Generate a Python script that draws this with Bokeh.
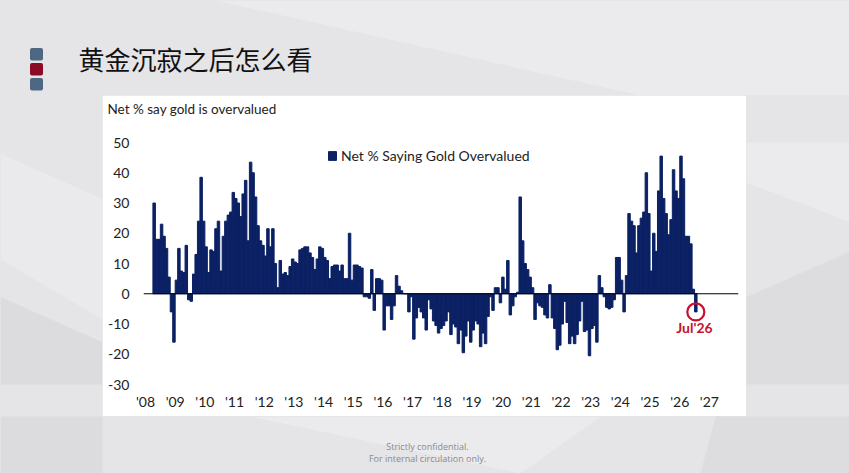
from bokeh.plotting import figure
from bokeh.layouts import column, row
from bokeh.models import (Range1d, FixedTicker, Span, Label, Legend, LegendItem, Title,
                          GlobalInlineStyleSheet)
from bokeh.core.properties import value
from bokeh.embed import file_html
from bokeh.resources import INLINE

# Net % of fund managers saying gold is overvalued, monthly, Apr 2008 .. Jul 2026
start_year, start_month = 2008, 4
y2008 = [30, 18, 18, 23, 19, 15, 5.5, -6, -16]
y2009 = [4.5, 15, 7.5, 7, 16, -2, -2.5, 6.5, 13, 24, 38.5, 24]
y2010 = [15.5, 7, 14.5, 14, 21.5, 24, 7.5, 19, 24, 26, 27, 33.5]
y2011 = [31.5, 30, 25.5, 33, 37.5, 17.5, 43.5, 40, 32, 22.5, 17.5, 16]
y2012 = [12.5, 21.5, 15.5, 21.5, 10, 2, 11, 6.5, 7, 6, 9, 11.5]
y2013 = [10.5, 10, 14.5, 15, 15.5, 15.5, 13.5, 12, 8, 11.5, 15.5, 15]
y2014 = [12, 11, 5, 9, 9.5, 9.5, 7.5, 9.5, 5, 5, 20, 4.5]
y2015 = [9.5, 9.5, 9, 8.5, -1, -1, -1.5, 8, -5.5, 5, 5, 4.5]
y2016 = [-12, -4, -4, -8.5, -4, 6, 2.5, 1, 0, 0, -6, -1]
y2017 = [-15, -8, -4.5, -6, -8, -12, -2, -5, -9, -10.5, -13, -11.5]
y2018 = [-10.5, -9, -6, -13.5, -10, -11, -16.5, -12, -19.5, -14, -9, -16]
y2019 = [-12, -9, -10, -17.5, -13, -16.5, -7.5, -1, -5.5, 2, 2, -3]
y2020 = [5.5, 1.5, 11, -7, -4, -1, 0.5, 32, 17.5, 10, 8, 5.5]
y2021 = [2, -8.5, -3, -4, -4.5, -7, -8, 3, -8, -11.5, -18.5, -17]
y2022 = [-10, -2.5, -9.5, -16.5, -14, -16.5, -13.5, -9, -2.5, -12.5, -12, -20.5]
y2023 = [-11.5, -10.5, -16, 6, 2, -1, -4.5, -5, -4.5, -2, 12, 12]
y2024 = [4.5, -6, 6, 26.5, 24, 22.5, 13.5, 22.5, 25, 27, 40, 26.5]
y2025 = [7.5, 20, 14, 34, 45.5, 31.5, 26.5, 19.5, 24.5, 41, 34, 31.5]
y2026 = [45.5, 38, 19, 19, 16.5, 1.5, -6]

years = list(range(2008, 2028))
year_labels = ["'%02d" % (y % 100) for y in years]
y_ticks = [-30, -20, -10, 0, 10, 20, 30, 40, 50]
series_name = "Net % Saying Gold Overvalued"
chart_title = "Net % say gold is overvalued"
slide_title = "黄金沉寂之后怎么看"
footer = ["Strictly confidential.", "For internal circulation only."]
last_label = "Jul'26"

values = (y2008 + y2009 + y2010 + y2011 + y2012 + y2013 + y2014 + y2015 + y2016 + y2017
          + y2018 + y2019 + y2020 + y2021 + y2022 + y2023 + y2024 + y2025 + y2026)
months = [start_year + (start_month - 1 + k + 0.5) / 12 for k in range(len(values))]

NAVY = "#0b2164"
RED = "#c8102e"
SLIDE = "#e5e5e7"
PAGE_W, PAGE_H = 849, 473
PANEL = (102, 746, 95, 416)        # page box of the white chart panel (left, right, top, bottom)
PX_YEAR = 29.68

# faint low-poly facets of the slide background, page pixels
facets = [
    ([215, 849, 849, 640], [0, 0, 200, 95], "#ebebed"),
    ([0, 102, 102, 0], [110, 170, 330, 250], "#eaeaec"),
    ([0, 102, 102, 0], [300, 360, 473, 473], "#dcdcdf"),
    ([746, 849, 849, 700], [300, 240, 473, 473], "#dddde0"),
    ([250, 600, 520], [416, 416, 473], "#ebebed"),
]


def slide_piece(x0, x1, y0, y1):
    f = figure(width=x1 - x0, height=y1 - y0, output_backend="svg", toolbar_location=None,
               tools="", x_range=Range1d(x0, x1), y_range=Range1d(y1, y0),
               x_axis_type=None, y_axis_type=None, min_border=0,
               background_fill_color=SLIDE, border_fill_color=SLIDE, outline_line_color=None)
    f.grid.visible = False
    f.patches(xs=[fc[0] for fc in facets], ys=[fc[1] for fc in facets],
              fill_color=[fc[2] for fc in facets], line_color=None)
    return f


# top band: bullets and slide title
top = slide_piece(0, PAGE_W, 0, PANEL[2])
top.quad(left=[29.5] * 3, right=[42.5] * 3, top=[47.5, 62.5, 77.5], bottom=[60, 75, 90],
         fill_color=["#4e6883", "#8c0c26", "#4e6883"], line_color=None, border_radius=2)
top.text(x=[78], y=[58], text=[slide_title], text_font=value("Noto Sans CJK SC"),
         text_font_size="26px", text_color="#111111", text_baseline="middle")

left = slide_piece(0, PANEL[0], PANEL[2], PANEL[3])
right = slide_piece(PANEL[1], PAGE_W, PANEL[2], PANEL[3])

bottom = slide_piece(0, PAGE_W, PANEL[3], PAGE_H)
bottom.text(x=[427, 427], y=[446, 457.5], text=footer, text_font=value("Open Sans"),
            text_font_size="9px", text_color="#8a8a8a", text_align="center",
            text_baseline="middle")

# chart: frame at page x 143..738, y 142..384
FL, FR, FT, FB = 143, 738, 142, 384
pw, ph = PANEL[1] - PANEL[0], PANEL[3] - PANEL[2]
p = figure(width=pw, height=ph, output_backend="svg", toolbar_location=None, tools="",
           title=None,
           x_range=Range1d(2008 - 2 / PX_YEAR, 2008 + 593 / PX_YEAR),
           y_range=Range1d(-30, 50),
           min_border_left=FL - PANEL[0], min_border_right=PANEL[1] - FR,
           min_border_top=FT - PANEL[2], min_border_bottom=PANEL[3] - FB,
           background_fill_color="white", border_fill_color="white",
           outline_line_color="white", outline_line_width=2)
# spacer title keeps the chart title up in the panel corner
p.add_layout(Title(text=" ", text_font_size="10px", standoff=13), "above")
p.add_layout(Title(text=chart_title, align="left", offset=-36, standoff=0,
                   text_font="Lato", text_font_style="normal", text_font_size="13.5px",
                   text_color="#222222"), "above")
p.extra_x_ranges = {"px": Range1d(FL, FR)}
p.extra_y_ranges = {"py": Range1d(FB, FT)}

bars = p.vbar(x=months, top=values, bottom=0, width=1 / 12, fill_color=NAVY,
              line_color=NAVY, line_width=1)
p.add_layout(Span(location=0, dimension="width", line_color="black", line_width=1))

# highlight of the latest reading
p.scatter(x=months[-1:], y=values[-1:], marker="circle", size=17, fill_color=None,
          line_color=RED, line_width=2.2)
p.add_layout(Label(x=694, y=327, text=last_label, text_font="Lato", text_font_style="bold",
                   text_font_size="14px", text_color=RED, text_align="center",
                   text_baseline="middle", x_range_name="px", y_range_name="py"))

legend = Legend(items=[LegendItem(label=series_name, renderers=[bars])],
                location=(184, 220), padding=0, margin=0, spacing=0,
                glyph_width=10, glyph_height=11, label_height=16, label_standoff=4,
                label_text_font="Lato", label_text_font_size="14px",
                label_text_color="#222222", border_line_color=None,
                background_fill_alpha=0)
p.add_layout(legend)

p.xaxis.ticker = FixedTicker(ticks=years)
p.xaxis.major_label_overrides = {y: lab for y, lab in zip(years, year_labels)}
p.yaxis.ticker = FixedTicker(ticks=y_ticks)
p.yaxis.major_label_overrides = {t: str(t) for t in y_ticks}
for ax in (p.xaxis[0], p.yaxis[0]):
    ax.axis_line_color = None
    ax.major_tick_line_color = None
    ax.minor_tick_line_color = None
    ax.major_tick_out = 0
    ax.major_tick_in = 0
    ax.major_label_text_font = "Lato"
    ax.major_label_text_font_size = "14px"
    ax.major_label_text_color = "#222222"
p.xaxis.major_label_standoff = 8
p.yaxis.major_label_standoff = 14
p.grid.visible = False

page = column(top, row(left, p, right, spacing=0), bottom, spacing=0)
page.stylesheets = [GlobalInlineStyleSheet(
    css="html, body { margin: 0; padding: 0; background-color: %s; }" % SLIDE)]

open("out.html", "w").write(file_html(page, INLINE))
